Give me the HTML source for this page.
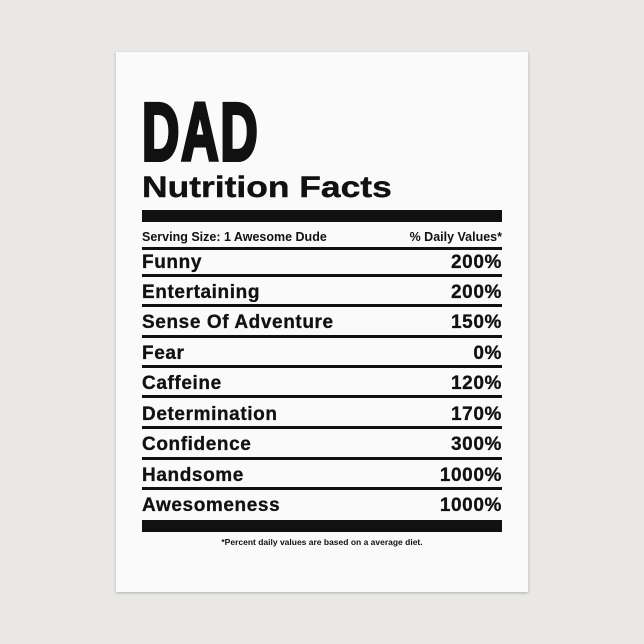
<!DOCTYPE html>
<html><head><style>
body{margin:0;width:644px;height:644px;background:#e9e8e6;position:relative;overflow:hidden;font-family:"Liberation Sans",sans-serif;color:#111;}
.card{position:absolute;left:116px;top:52px;width:412px;height:540px;background:#fafafa;box-shadow:0 1px 3px rgba(0,0,0,.25);}
.a{position:absolute;font-weight:bold;white-space:nowrap;}
.bar{position:absolute;left:142px;width:360px;background:#111;}
.row{position:absolute;left:142px;width:360px;font-weight:bold;font-size:19px;letter-spacing:0.6px;line-height:22px;-webkit-text-stroke:0.3px #111;}
.row span{position:absolute;right:0;}
</style></head><body>
<div class="card"></div>
<div class="a" style="left:142px;top:92px;font-size:82px;line-height:82px;transform:scaleX(0.63);transform-origin:left top;-webkit-text-stroke:4px #111;letter-spacing:3px;">DAD</div>
<div class="a" style="left:142px;top:171px;font-size:30px;line-height:34px;transform:scaleX(1.18);transform-origin:left top;-webkit-text-stroke:0.4px #111;">Nutrition Facts</div>
<div class="bar" style="top:210px;height:12px;"></div>
<div class="a" style="left:142px;top:229px;font-size:12.5px;line-height:16px;">Serving Size: 1 Awesome Dude</div>
<div class="a" style="right:142px;top:229px;font-size:12.5px;line-height:16px;">% Daily Values*</div>
<div class="bar" style="top:247px;height:3px;"></div>
<div class="row" style="top:252px">Funny<span>200%</span></div>
<div class="bar" style="top:274px;height:3px;"></div>
<div class="row" style="top:282px">Entertaining<span>200%</span></div>
<div class="bar" style="top:304px;height:3px;"></div>
<div class="row" style="top:312px">Sense Of Adventure<span>150%</span></div>
<div class="bar" style="top:335px;height:3px;"></div>
<div class="row" style="top:343px">Fear<span>0%</span></div>
<div class="bar" style="top:365px;height:3px;"></div>
<div class="row" style="top:373px">Caffeine<span>120%</span></div>
<div class="bar" style="top:395px;height:3px;"></div>
<div class="row" style="top:404px">Determination<span>170%</span></div>
<div class="bar" style="top:426px;height:3px;"></div>
<div class="row" style="top:434px">Confidence<span>300%</span></div>
<div class="bar" style="top:457px;height:3px;"></div>
<div class="row" style="top:465px">Handsome<span>1000%</span></div>
<div class="bar" style="top:487px;height:3px;"></div>
<div class="row" style="top:495px">Awesomeness<span>1000%</span></div>
<div class="bar" style="top:520px;height:12px;"></div>
<div class="a" style="left:142px;width:360px;text-align:center;top:537px;font-size:8.5px;line-height:11px;">*Percent daily values are based on a average diet.</div>
</body></html>
